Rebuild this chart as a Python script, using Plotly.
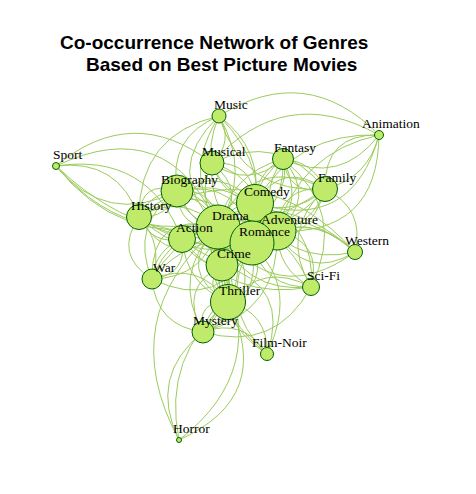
import plotly.graph_objects as go

# node layout (pixel-like coordinates of the original igraph plot)
genres = ["Drama", "Comedy", "Adventure", "Romance", "Crime", "Thriller", "Biography",
          "Action", "History", "War", "Musical", "Music", "Fantasy", "Family", "Mystery",
          "Sci-Fi", "Western", "Film-Noir", "Animation", "Sport", "Horror"]
node_x = [218, 255, 277, 252, 222, 228, 177, 182, 139, 152, 212, 219, 283, 325, 203,
          311, 355, 267, 379, 56, 179]
node_y = [227, 203, 231, 243, 265, 302, 191, 239, 217, 279, 163, 116, 159, 189, 332,
          287, 252, 354, 135, 166, 440]
node_radius = [22, 18.5, 19, 22, 16, 17.5, 16, 13.5, 12.5, 10, 12, 7, 10.5, 12.5, 11,
               8.5, 7.5, 6.5, 4.5, 3.5, 2.5]

# co-occurrence edges (from, to, number of movies)
edge_from = ["Drama", "Drama", "Drama", "Drama", "Drama", "Drama", "Drama", "Drama",
             "Drama", "Drama", "Drama", "Drama", "Drama", "Drama", "Drama", "Drama",
             "Drama", "Drama", "Drama",
             "Romance", "Romance", "Romance", "Romance", "Romance", "Romance", "Romance",
             "Romance", "Romance", "Romance", "Romance", "Romance", "Romance", "Romance",
             "Romance", "Romance",
             "Comedy", "Comedy", "Comedy", "Comedy", "Comedy", "Comedy", "Comedy",
             "Comedy", "Comedy", "Comedy", "Comedy",
             "Adventure", "Adventure", "Adventure", "Adventure", "Adventure", "Adventure",
             "Adventure", "Adventure", "Adventure", "Adventure",
             "Crime", "Crime", "Crime", "Crime", "Crime", "Crime",
             "Thriller", "Thriller", "Thriller", "Thriller", "Thriller", "Thriller",
             "Biography", "Biography", "Biography", "Biography", "Biography",
             "Action", "Action", "Action", "Action",
             "History", "History", "History",
             "Musical", "Musical", "Musical", "Musical",
             "Music", "Music", "Music",
             "Fantasy", "Fantasy", "Fantasy",
             "Family", "Family", "Family",
             "Mystery", "Mystery", "Mystery", "Mystery",
             "Sport", "Sport", "Sport"]
edge_to = ["Romance", "Comedy", "Adventure", "Crime", "Thriller", "Biography", "Action",
           "History", "War", "Musical", "Music", "Fantasy", "Family", "Mystery", "Sci-Fi",
           "Western", "Film-Noir", "Sport", "Horror",
           "Comedy", "Adventure", "Crime", "Thriller", "Biography", "Action", "History",
           "War", "Musical", "Music", "Fantasy", "Family", "Mystery", "Sci-Fi", "Western",
           "Film-Noir",
           "Adventure", "Crime", "Musical", "Music", "Fantasy", "Family", "Animation",
           "Biography", "Sport", "Western", "Sci-Fi",
           "Action", "History", "War", "Fantasy", "Family", "Animation", "Sci-Fi",
           "Western", "Thriller", "Mystery",
           "Thriller", "Mystery", "Film-Noir", "Action", "Biography", "Horror",
           "Mystery", "Action", "War", "Sci-Fi", "Horror", "Film-Noir",
           "History", "Music", "Musical", "Sport", "War",
           "History", "War", "Western", "Sci-Fi",
           "War", "Sport", "Western",
           "Music", "Family", "Fantasy", "Animation",
           "Family", "Animation", "History",
           "Family", "Animation", "Sci-Fi",
           "Animation", "Western", "Sci-Fi",
           "Film-Noir", "Horror", "War", "Sci-Fi",
           "Action", "Family", "Musical"]
edge_count = [5, 4, 3, 4, 3, 4, 2, 3, 3, 2, 2, 2, 2, 3, 1, 2, 2, 2, 1,
              4, 3, 2, 2, 2, 1, 2, 2, 2, 2, 2, 1, 1, 1, 1, 1,
              2, 1, 2, 2, 2, 2, 2, 1, 1, 1, 1,
              2, 2, 1, 2, 2, 2, 2, 2, 1, 1,
              3, 2, 2, 2, 1, 1,
              3, 2, 1, 1, 2, 1,
              3, 1, 1, 1, 1,
              1, 2, 1, 2,
              2, 1, 1,
              1, 1, 1, 1,
              1, 1, 1,
              2, 1, 1,
              2, 1, 1,
              1, 1, 1, 1,
              1, 1, 1]

title_lines = ["Co-occurrence Network of Genres", "Based on Best Picture Movies"]

NODE_FILL = "#BFEA6A"
NODE_LINE = "#006400"
EDGE_COLOR = "#9CCB5C"
PAGE_OFFSET = 8  # the page body adds a margin around the plot div


def edge_shapes():
    pos = {g: (node_x[i], node_y[i]) for i, g in enumerate(genres)}
    shapes = []
    for k in range(len(edge_from)):
        x0, y0 = pos[edge_from[k]]
        x1, y1 = pos[edge_to[k]]
        n = edge_count[k]
        sign = 1 if k % 2 == 0 else -1
        for j in range(n):
            # curvature like igraph's edge.curved, spread for parallel edges
            c = sign * (0.3 + 0.35 * j / max(n - 1, 1)) if n > 1 else sign * 0.4
            if n > 1 and j % 2 == 1:
                c = -c * 0.8
            cx = (x0 + x1) / 2 - c * (y1 - y0)
            cy = (y0 + y1) / 2 + c * (x1 - x0)
            shapes.append(dict(type="path", xref="x", yref="y", layer="below",
                               path=f"M {x0},{y0} Q {cx},{cy} {x1},{y1}",
                               line=dict(color=EDGE_COLOR, width=1)))
    return shapes


def main():
    fig = go.Figure()
    fig.add_trace(go.Scatter(
        x=node_x, y=node_y, mode="markers", hoverinfo="text", text=genres,
        marker=dict(size=[2 * r for r in node_radius], color=NODE_FILL,
                    line=dict(color=NODE_LINE, width=1), opacity=1),
        showlegend=False))

    annotations = []
    for i, g in enumerate(genres):
        annotations.append(dict(x=node_x[i], y=node_y[i], xref="x", yref="y",
                                text=g, showarrow=False, xshift=12, yshift=12,
                                font=dict(family="Liberation Serif", size=13.5, color="black")))
    # two title lines, centred where the original puts them
    for text, px, py in [(title_lines[0], 214, 30), (title_lines[1], 221, 52)]:
        annotations.append(dict(x=(px - PAGE_OFFSET) / 476, y=1 - (py - PAGE_OFFSET) / 494,
                                xref="paper", yref="paper", text="<b>" + text + "</b>",
                                showarrow=False,
                                font=dict(family="Liberation Sans", size=19, color="black")))

    fig.update_layout(
        width=476, height=494, margin=dict(l=0, r=0, t=0, b=0),
        plot_bgcolor="white", paper_bgcolor="white",
        xaxis=dict(range=[PAGE_OFFSET, 476 + PAGE_OFFSET], visible=False, fixedrange=True),
        yaxis=dict(range=[494 + PAGE_OFFSET, PAGE_OFFSET], visible=False, fixedrange=True),
        shapes=edge_shapes(), annotations=annotations)
    fig.write_html("out.html")


if __name__ == '__main__':
    main()
